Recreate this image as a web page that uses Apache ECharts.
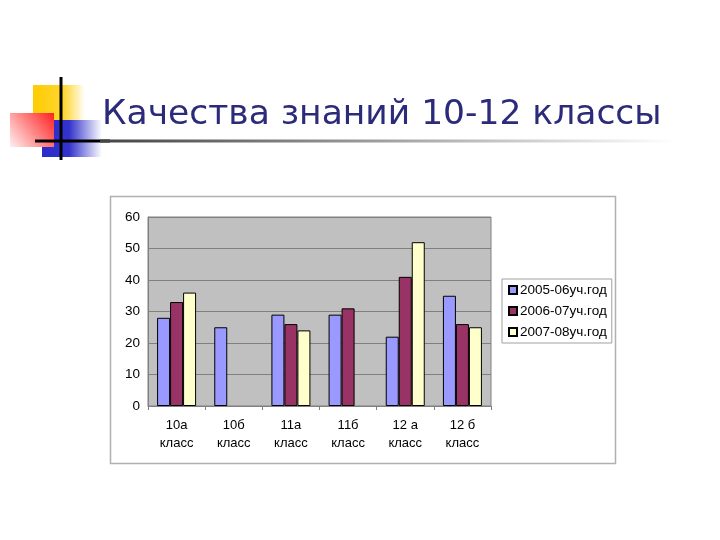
<!DOCTYPE html>
<html>
<head>
<meta charset="utf-8">
<script src="https://cdn.jsdelivr.net/npm/echarts@6/dist/echarts.min.js"></script>
<style>
  html, body { margin: 0; padding: 0; background: #fff; }
  #chart { width: 720px; height: 540px; }
</style>
</head>
<body>
<div id="chart"></div>
<script>
// данные диаграммы
const categories = ['10а\nкласс', '10б\nкласс', '11а\nкласс', '11б\nкласс', '12 а\nкласс', '12 б\nкласс']
const seriesNames = ['2005-06уч.год', '2006-07уч.год', '2007-08уч.год']
const year2005 = [28, 25, 29, 29, 22, 35]
const year2006 = [33, null, 26, 31, 41, 26]
const year2007 = [36, null, 24, null, 52, 25]
const yTicks = [0, 10, 20, 30, 40, 50, 60]

const colors = ['#9999ff', '#993366', '#ffffcc']
const chart = echarts.init(document.getElementById('chart'))

const makeSeries = (name, values, i) => ({
  name,
  type: 'bar',
  data: values,
  barWidth: 13,
  barGap: '0%',
  itemStyle: { color: colors[i], borderColor: '#000', borderWidth: 1 },
})

const option = {
  animation: false,
  title: {
    text: 'Качества знаний 10-12 классы',
    left: 97,
    top: 93,
    textStyle: { fontFamily: 'DejaVu Sans', fontSize: 34.5, fontWeight: 'normal', color: '#2b2b7a' },
  },
  graphic: [
    // декоративный значок слева от заголовка
    { type: 'rect', shape: { x: 33, y: 85, width: 52, height: 36 }, z: -1,
      style: { fill: new echarts.graphic.LinearGradient(0, 0, 1, 0, [{ offset: 0, color: '#ffcc00' }, { offset: 0.6, color: '#ffd633' }, { offset: 1, color: '#ffffff' }]) } },
    { type: 'rect', shape: { x: 42, y: 120, width: 60, height: 37 }, z: -1,
      style: { fill: new echarts.graphic.LinearGradient(0, 0, 1, 0, [{ offset: 0, color: '#2b2bcc' }, { offset: 0.45, color: '#3333cc' }, { offset: 1, color: '#ffffff' }]) } },
    { type: 'rect', shape: { x: 10, y: 113, width: 44, height: 34 }, z: 0,
      style: { fill: new echarts.graphic.LinearGradient(1, 0, 0, 1, [{ offset: 0, color: '#ff2020' }, { offset: 1, color: '#fff0f0' }]) } },
    { type: 'line', shape: { x1: 61, y1: 77, x2: 61, y2: 160 }, style: { stroke: '#000', lineWidth: 3 } },
    { type: 'line', shape: { x1: 35, y1: 141, x2: 110, y2: 141 }, style: { stroke: '#000', lineWidth: 3 } },
    { type: 'rect', shape: { x: 100, y: 139.5, width: 575, height: 3 },
      style: { fill: new echarts.graphic.LinearGradient(0, 0, 1, 0, [{ offset: 0, color: '#444444' }, { offset: 1, color: '#ffffff' }]) } },
    // рамка диаграммы
    { type: 'rect', shape: { x: 110.5, y: 196.5, width: 505, height: 267 }, z: -2,
      style: { fill: '#fff', stroke: '#b0b0b0', lineWidth: 1.5 } },
  ],
  legend: {
    orient: 'vertical',
    left: 502,
    top: 279,
    padding: [4, 5, 4, 6],
    itemGap: 7,
    itemWidth: 8,
    itemHeight: 8,
    backgroundColor: '#fff',
    borderColor: '#a0a0a0',
    borderWidth: 1,
    data: seriesNames.map((n) => ({ name: n, icon: 'rect' })),
    textStyle: { fontFamily: 'Liberation Sans', fontSize: 13.5, color: '#000', padding: [0, 0, 0, -2] },
  },
  grid: {
    left: 148, right: 229, top: 217, bottom: 134,
    show: true, backgroundColor: '#c0c0c0', borderColor: '#808080', borderWidth: 1,
  },
  xAxis: {
    type: 'category',
    data: categories,
    axisLine: { lineStyle: { color: '#808080' } },
    axisTick: { show: true, alignWithLabel: false, length: 4, lineStyle: { color: '#808080' } },
    axisLabel: { fontFamily: 'Liberation Sans', fontSize: 13, color: '#000', lineHeight: 18, margin: 10 },
  },
  yAxis: {
    type: 'value',
    min: yTicks[0],
    max: yTicks[yTicks.length - 1],
    interval: 10,
    axisLine: { show: true, lineStyle: { color: '#808080' } },
    axisTick: { show: false },
    splitLine: { lineStyle: { color: '#808080' } },
    axisLabel: { fontFamily: 'Liberation Sans', fontSize: 13.5, color: '#000', margin: 8 },
  },
  series: [
    makeSeries(seriesNames[0], year2005, 0),
    makeSeries(seriesNames[1], year2006, 1),
    makeSeries(seriesNames[2], year2007, 2),
  ],
}
chart.setOption(option)
</script>
</body>
</html>
